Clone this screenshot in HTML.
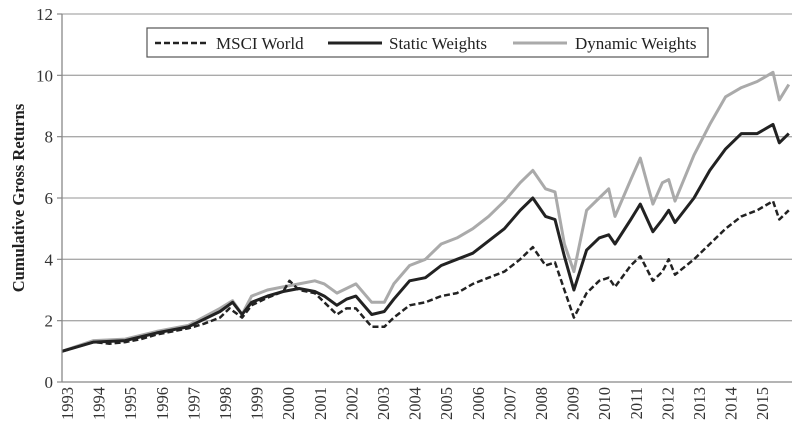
<!DOCTYPE html>
<html><head><meta charset="utf-8"><style>
body{margin:0;background:#fff}
svg, svg text{font-family:"Liberation Serif","DejaVu Serif",serif}
</style></head><body>
<svg id="c" width="801" height="432" font-family="Liberation Serif, serif">
<g id="grid"></g>
<g id="series"></g>
<g id="axes"></g>
<text transform="translate(24,198) rotate(-90)" text-anchor="middle" font-size="16.5" font-weight="bold" fill="#222">Cumulative Gross Returns</text>
<g>
<rect x="147" y="28" width="561" height="29" fill="#fff" stroke="#555" stroke-width="1.2"/>
<line x1="155" y1="43" x2="209" y2="43" stroke="#222" stroke-width="2.5" stroke-dasharray="6,3"/>
<text x="216" y="49" font-size="17" fill="#222">MSCI World</text>
<line x1="328" y1="43" x2="382" y2="43" stroke="#222" stroke-width="3"/>
<text x="389" y="49" font-size="17" fill="#222">Static Weights</text>
<line x1="513" y1="43" x2="567" y2="43" stroke="#aaa" stroke-width="3"/>
<text x="575" y="49" font-size="17" fill="#222">Dynamic Weights</text>
</g>
</svg>
<script>
const yTicks=[0,2,4,6,8,10,12];
const years=[1993,1994,1995,1996,1997,1998,1999,2000,2001,2002,2003,2004,2005,2006,2007,2008,2009,2010,2011,2012,2013,2014,2015];
const msciT=[1993,1993.5,1994,1994.5,1995,1995.5,1996,1996.5,1997,1997.5,1998,1998.3,1998.7,1999,1999.5,2000,2000.2,2000.5,2001,2001.3,2001.7,2002,2002.3,2002.8,2003.2,2003.5,2004,2004.5,2005,2005.5,2006,2006.5,2007,2007.5,2007.9,2008.3,2008.6,2008.9,2009.2,2009.6,2010,2010.3,2010.5,2011,2011.3,2011.7,2012,2012.2,2012.4,2013,2013.5,2014,2014.5,2015,2015.5,2015.7,2016];
const msciV=[1.0,1.15,1.3,1.25,1.3,1.4,1.55,1.65,1.75,1.9,2.1,2.4,2.1,2.5,2.75,2.95,3.3,3.0,2.9,2.6,2.2,2.4,2.4,1.8,1.8,2.1,2.5,2.6,2.8,2.9,3.2,3.4,3.6,4.0,4.4,3.8,3.9,3.0,2.1,2.9,3.3,3.4,3.1,3.8,4.1,3.3,3.6,4.0,3.5,4.0,4.5,5.0,5.4,5.6,5.9,5.3,5.6];
const otherT=[1993,1994,1995,1996,1997,1998,1998.4,1998.7,1999,1999.5,2000,2000.5,2001,2001.3,2001.7,2002,2002.3,2002.8,2003.2,2003.5,2004,2004.5,2005,2005.5,2006,2006.5,2007,2007.5,2007.9,2008.3,2008.6,2008.9,2009.2,2009.6,2010,2010.3,2010.5,2011,2011.3,2011.7,2012,2012.2,2012.4,2013,2013.5,2014,2014.5,2015,2015.5,2015.7,2016];
const staticV=[1.0,1.3,1.35,1.6,1.8,2.3,2.6,2.2,2.6,2.8,2.95,3.05,2.95,2.8,2.5,2.7,2.8,2.2,2.3,2.7,3.3,3.4,3.8,4.0,4.2,4.6,5.0,5.6,6.0,5.4,5.3,4.1,3.0,4.3,4.7,4.8,4.5,5.3,5.8,4.9,5.3,5.6,5.2,6.0,6.9,7.6,8.1,8.1,8.4,7.8,8.1];
const dynamicV=[1.0,1.35,1.4,1.65,1.85,2.4,2.65,2.2,2.8,3.0,3.1,3.2,3.3,3.2,2.9,3.05,3.2,2.6,2.6,3.2,3.8,4.0,4.5,4.7,5.0,5.4,5.9,6.5,6.9,6.3,6.2,4.5,3.6,5.6,6.0,6.3,5.4,6.6,7.3,5.8,6.5,6.6,5.9,7.4,8.4,9.3,9.6,9.8,10.1,9.2,9.7];

const NS="http://www.w3.org/2000/svg";
const X0=62,X1=792,Y0=382,Y1=14;
const x=t=>X0+(t-1993)*31.6;
const y=v=>Y0-(v/12)*(Y0-Y1);
function mk(tag,attrs,parent){const e=document.createElementNS(NS,tag);for(const k in attrs)e.setAttribute(k,attrs[k]);document.getElementById(parent).appendChild(e);return e;}
yTicks.forEach(v=>{
  if(v>0){const g=mk('line',{x1:X0,x2:X1,y1:y(v),y2:y(v),stroke:'#aaa','stroke-width':1.3},'grid');
  
  }
  const tk=mk('line',{x1:X0-5,x2:X0,y1:y(v),y2:y(v),stroke:'#888','stroke-width':1.2},'axes');
  
  
  const t=mk('text',{x:X0-9,y:y(v)+6,'text-anchor':'end','font-size':17,fill:'#333'},'axes');
  t.textContent=v;
  
  
});
const ax=mk('line',{x1:X0,x2:X0,y1:Y1,y2:Y0,stroke:'#888','stroke-width':1.3},'axes');


const bx=mk('line',{x1:X0,x2:X1,y1:Y0,y2:Y0,stroke:'#888','stroke-width':1.3},'axes');


years.forEach(yr=>{
  const px=x(yr)+5;
  const t=mk('text',{transform:`translate(${px+6},${Y0+5}) rotate(-90)`,'text-anchor':'end','font-size':16.5,fill:'#333'},'axes');
  t.textContent=yr;
  
  
});
function line(T,V,style,name){
  const d=T.map((t,i)=>(i?'L':'M')+x(t).toFixed(1)+','+y(V[i]).toFixed(1)).join('');
  const p=mk('path',Object.assign({d:d,fill:'none','stroke-linejoin':'round'},style),'series');
  
  
}
line(otherT,dynamicV,{stroke:'#aaa','stroke-width':3},'dynamic-weights-line');
line(otherT,staticV,{stroke:'#222','stroke-width':3},'static-weights-line');
line(msciT,msciV,{stroke:'#222','stroke-width':2.5,'stroke-dasharray':'6,3'},'msci-world-line');
</script>
</body></html>
